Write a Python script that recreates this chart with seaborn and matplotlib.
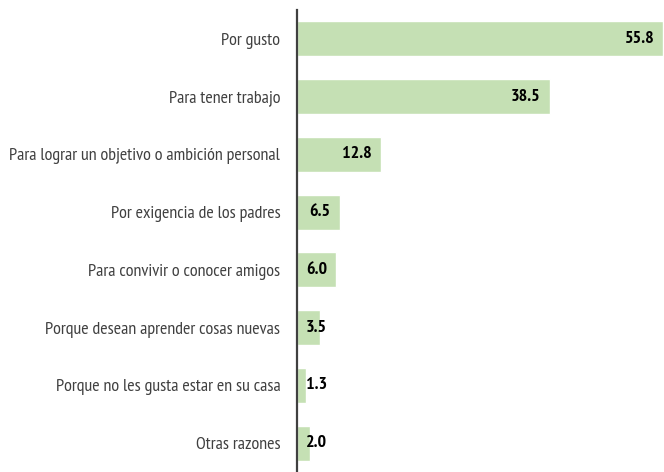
import matplotlib
matplotlib.use("Agg")
import matplotlib.pyplot as plt
import seaborn as sns
import pandas as pd

categories = [
    "Por gusto",
    "Para tener trabajo",
    "Para lograr un objetivo o ambición personal",
    "Por exigencia de los padres",
    "Para convivir o conocer amigos",
    "Porque desean aprender cosas nuevas",
    "Porque no les gusta estar en su casa",
    "Otras razones",
]
values = [55.8, 38.5, 12.8, 6.5, 6.0, 3.5, 1.3, 2.0]

df = pd.DataFrame({"cat": categories, "val": values})

sns.set_theme(style="white")
plt.rcParams["font.family"] = ["PT Sans Narrow", "DejaVu Sans"]

fig = plt.figure(figsize=(6.64, 4.72), dpi=100)
ax = fig.add_axes([297 / 664, 0.0, 366 / 664, 1 - 10 / 472])

sns.barplot(data=df, y="cat", x="val", orient="h", color="#c5e0b4",
            saturation=1, width=0.61, ax=ax)

ax.set_xlim(0, 55.8)
ax.set_ylim(len(categories) - 0.5, -0.5)
ax.set_xlabel("")
ax.set_ylabel("")
ax.set_xticks([])
ax.tick_params(axis="y", length=0, pad=12, labelsize=13, labelcolor="#404040")
for s in ["top", "right", "bottom"]:
    ax.spines[s].set_visible(False)
ax.spines["left"].set_color("#404040")
ax.spines["left"].set_linewidth(1.6)

for i, v in enumerate(values):
    x = max(v - 1.4, 4.6)
    ax.text(x, i, f"{v:.1f}", ha="right", va="center", fontsize=13,
            fontweight="bold", color="black")

fig.savefig("out.png", dpi=100)
